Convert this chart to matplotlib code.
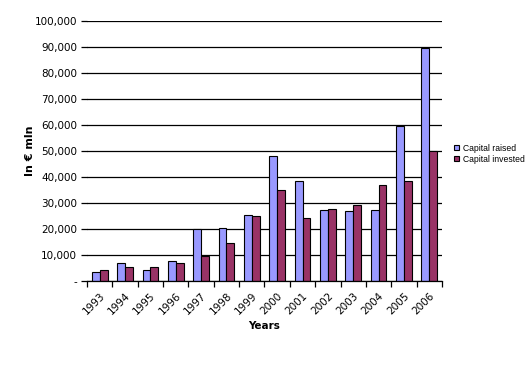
import numpy as np
import matplotlib
matplotlib.use('Agg')
import matplotlib.pyplot as plt
from matplotlib.ticker import FuncFormatter

# Data.
years = ['1993', '1994', '1995', '1996', '1997', '1998', '1999',
         '2000', '2001', '2002', '2003', '2004', '2005', '2006']
capital_raised = [3500, 7000, 4200, 7700, 20000, 20400, 25400,
                  48000, 38500, 27200, 26800, 27200, 59600, 89600]
capital_invested = [4200, 5300, 5300, 7000, 9800, 14600, 25000,
                    35000, 24100, 27600, 29200, 36800, 38300, 49900]

fig = plt.figure(figsize=(5.31, 3.84), dpi=100)
ax = fig.add_axes([0.1638, 0.2682, 0.6686, 0.6771])

x = np.arange(len(years))
w = 0.31
ax.bar(x - w/2, capital_raised, w, color='#9999FF', edgecolor='black',
       linewidth=0.8, label='Capital raised', zorder=3)
ax.bar(x + w/2, capital_invested, w, color='#993366', edgecolor='black',
       linewidth=0.8, label='Capital invested', zorder=3)

ax.set_xlim(-0.5, len(years) - 0.5)
ax.set_ylim(0, 100000)
ax.set_yticks(np.arange(0, 100001, 10000))
ax.yaxis.set_major_formatter(FuncFormatter(lambda v, p: '-' if v == 0 else f'{int(v):,}'))
ax.grid(axis='y', color='black', linewidth=0.9, zorder=0)

# Category ticks on boundaries, labels at centres.
ax.set_xticks(np.arange(-0.5, len(years)), minor=False)
ax.set_xticklabels([])
ax.set_xticks(x, minor=True)
ax.set_xticklabels(years, minor=True, rotation=45, ha='right',
                   rotation_mode='anchor', fontsize=7.5)
ax.tick_params(axis='x', which='minor', length=0, pad=7)
ax.tick_params(axis='x', which='major', length=4, width=0.9, direction='out')
ax.tick_params(axis='y', length=4, width=0.9, labelsize=7.5, pad=3)

for s in ['top', 'right', 'left']:
    ax.spines[s].set_visible(False)
ax.spines['bottom'].set_linewidth(0.9)
ax.spines['bottom'].set_zorder(4)

ax.set_ylabel('In € mln', fontsize=8, fontweight='bold')
ax.yaxis.set_label_coords(-0.145, 0.5)
ax.set_xlabel('Years', fontsize=7.5, fontweight='bold', labelpad=3)

ax.legend(loc='center left', bbox_to_anchor=(1.02, 0.49), frameon=False,
          prop={'family': 'Liberation Sans', 'size': 6.2},
          handlelength=0.6, handleheight=0.6, handletextpad=0.4,
          labelspacing=0.25, borderaxespad=0.2)

fig.savefig('out.png', dpi=100)
